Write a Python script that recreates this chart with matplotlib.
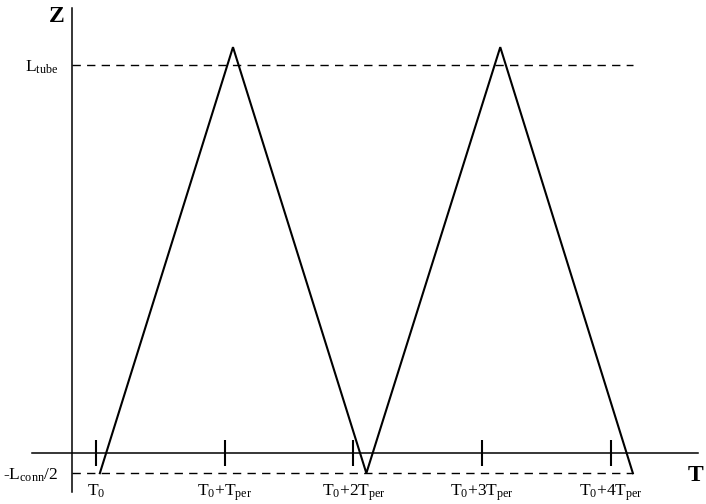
import numpy as np
import matplotlib
matplotlib.use("Agg")
import matplotlib.pyplot as plt

plt.rcParams['font.family'] = ['Liberation Serif', 'DejaVu Serif']
plt.rcParams['mathtext.fontset'] = 'custom'
plt.rcParams['mathtext.rm'] = 'Liberation Serif'
plt.rcParams['mathtext.it'] = 'Liberation Serif'

# time in units of T_per (from T_0), height in units of L_tube
tick_pos = [0, 1, 2, 3, 4]
tick_labels = [r'T$_0$', r'T$_0$+T$_{\mathrm{per}}$', r'T$_0$+2T$_{\mathrm{per}}$',
               r'T$_0$+3T$_{\mathrm{per}}$', r'T$_0$+4T$_{\mathrm{per}}$']
zig_t = [0.03, 1.064, 2.10, 3.14, 4.17]
zig_z = [-0.052, 1.046, -0.052, 1.046, -0.052]
L_tube = 1.0
L_conn_half = -0.052
level_labels = [r'L$_{\mathrm{tube}}$', r'-L$_{\mathrm{conn}}$/2']

fig = plt.figure(figsize=(7.06, 5.04), dpi=100)
ax = fig.add_axes([0, 0, 1, 1])
ax.set_xlim(-0.7456, 4.738)
ax.set_ylim(-0.1314, 1.1675)

# zigzag trajectory
ax.plot(zig_t, zig_z, color='black', lw=1.5, solid_joinstyle='miter')

# dashed reference levels
ax.hlines([L_tube, L_conn_half], -0.186, 4.17, colors='black', lw=1.0,
          linestyles=(0, (6, 4.5)))

# axes lines
for s in ['top', 'right']:
    ax.spines[s].set_visible(False)
ax.spines['left'].set_position(('data', -0.186))
ax.spines['left'].set_bounds(-0.1005, 1.147)
ax.spines['bottom'].set_position(('data', 0))
ax.spines['bottom'].set_bounds(-0.497, 4.676)
ax.spines['left'].set_linewidth(1.1)
ax.spines['bottom'].set_linewidth(1.1)

ax.set_xticks(tick_pos)
ax.set_xticklabels(tick_labels, fontsize=12.5)
ax.tick_params(axis='x', direction='inout', length=18.7, width=1.5, pad=12)

ax.set_yticks([L_tube, L_conn_half])
ax.set_yticklabels(level_labels, fontsize=12.5)
ax.tick_params(axis='y', length=0, pad=10)

ax.text(-0.303, 1.124, 'Z', fontsize=17, fontweight='bold', ha='center', va='center')
ax.text(4.66, -0.057, 'T', fontsize=17, fontweight='bold', ha='center', va='center')

fig.savefig('out.png', dpi=100)
